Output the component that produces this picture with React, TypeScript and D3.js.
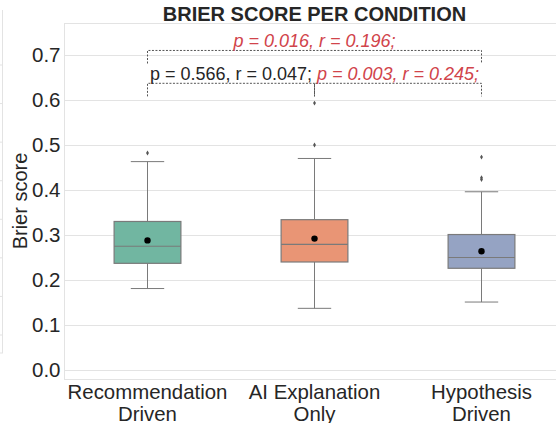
import React from "react";
import * as d3 from "d3";

const categories = ["Recommendation\nDriven", "AI Explanation\nOnly", "Hypothesis\nDriven"];
const q1 = [0.237, 0.240, 0.226];
const medians = [0.275, 0.279, 0.250];
const q3 = [0.330, 0.334, 0.301];
const whiskerLow = [0.181, 0.137, 0.151];
const whiskerHigh = [0.463, 0.470, 0.396];
const means = [0.288, 0.292, 0.264];
const outliers = [[0.482], [0.593, 0.500], [0.473, 0.427, 0.423]];
const colors = ["#71b6a1", "#e99575", "#95a3c3"];
const yTicks = [0.0, 0.1, 0.2, 0.3, 0.4, 0.5, 0.6, 0.7];
const brackets = [
  { from: 0, to: 2, level: 0, text: "p = 0.016, r = 0.196;", sig: true },
  { from: 0, to: 1, level: 1, text: "p = 0.566, r = 0.047;", sig: false },
  { from: 1, to: 2, level: 1, text: "p = 0.003, r = 0.245;", sig: true },
];
const title = "BRIER SCORE PER CONDITION";
const yLabel = "Brier score";

const W = 556, H = 423;
const left = 64, top = 23, bottom = 379, right = 565;
const FONT = "'Liberation Sans', Arial, sans-serif";
const TXT = "#262626";
const GRID = "#e3e3e3";
const EDGE = "#7a7a7a";

export default function App() {
  const x = d3.scaleBand<number>().domain([0, 1, 2]).range([left, right]).padding(0);
  const y = d3.scaleLinear().domain([-0.02, 0.771]).range([bottom, top]);
  const bw = x.bandwidth() * 0.4;
  const cx = (i: number) => (x(i) as number) + x.bandwidth() / 2;
  const diamond = d3.symbol().type(d3.symbolDiamond).size(7)() as string;

  const bracketY = (lvl: number) => y(0.71 - lvl * 0.073);
  const legLen = y(0) - y(0.029);

  // neighbouring panel edge (left clip)
  const ny = d3.scaleLinear().domain([0, 7]).range([65, 335]);

  return (
    <svg width={W} height={H} style={{ position: "absolute", left: 0, top: 0, background: "#fff" }} fontFamily={FONT}>
      <rect width={W} height={H} fill="#fff" />
      {/* neighbour panel remnant */}
      <line x1={2.5} x2={2.5} y1={10} y2={353} stroke={GRID} />
      <line x1={0} x2={3} y1={353} y2={353} stroke={GRID} />
      {d3.range(8).map((i) => (
        <line key={"n" + i} x1={0} x2={2} y1={ny(i)} y2={ny(i)} stroke={GRID} />
      ))}

      {/* grid */}
      {yTicks.map((t) => (
        <line key={"g" + t} x1={left} x2={right} y1={Math.round(y(t)) + 0.5} y2={Math.round(y(t)) + 0.5} stroke={GRID} strokeWidth={1} />
      ))}
      {/* spines */}
      <line x1={left + 0.5} x2={left + 0.5} y1={top} y2={bottom} stroke={GRID} />
      <line x1={left} x2={right} y1={top + 0.5} y2={top + 0.5} stroke={GRID} />
      <line x1={left} x2={right} y1={bottom + 0.5} y2={bottom + 0.5} stroke={GRID} />

      {/* y tick labels */}
      {yTicks.map((t) => (
        <text key={"t" + t} x={left - 3.5} y={y(t)} dy="0.36em" textAnchor="end" fontSize={20.5} fill={TXT}>
          {d3.format(".1f")(t)}
        </text>
      ))}
      {/* y label */}
      <text transform={`translate(26.5, ${(top + bottom) / 2}) rotate(-90)`} textAnchor="middle" fontSize={20} fill={TXT}>
        {yLabel}
      </text>
      {/* x labels */}
      {categories.map((c, i) => (
        <text key={"x" + i} x={cx(i)} y={398.5} textAnchor="middle" fontSize={20.4} fill={TXT}>
          {c.split("\n").map((ln, j) => (
            <tspan key={j} x={cx(i)} dy={j === 0 ? 0 : 22}>{ln}</tspan>
          ))}
        </text>
      ))}

      {/* boxes */}
      {categories.map((_, i) => {
        const c = cx(i);
        return (
          <g key={"b" + i}>
            <line x1={c} x2={c} y1={y(whiskerHigh[i])} y2={y(q3[i])} stroke={EDGE} strokeWidth={1} />
            <line x1={c} x2={c} y1={y(q1[i])} y2={y(whiskerLow[i])} stroke={EDGE} strokeWidth={1} />
            <line x1={c - bw / 4} x2={c + bw / 4} y1={y(whiskerHigh[i])} y2={y(whiskerHigh[i])} stroke={EDGE} strokeWidth={1} />
            <line x1={c - bw / 4} x2={c + bw / 4} y1={y(whiskerLow[i])} y2={y(whiskerLow[i])} stroke={EDGE} strokeWidth={1} />
            <rect x={c - bw / 2} y={y(q3[i])} width={bw} height={y(q1[i]) - y(q3[i])} fill={colors[i]} stroke={EDGE} strokeWidth={1.2} />
            <line x1={c - bw / 2} x2={c + bw / 2} y1={y(medians[i])} y2={y(medians[i])} stroke={EDGE} strokeWidth={1.2} />
            <circle cx={c} cy={y(means[i])} r={3.2} fill="#000" />
            {outliers[i].map((o, k) => (
              <path key={k} d={diamond} transform={`translate(${c},${y(o)})`} fill="#555" />
            ))}
          </g>
        );
      })}

      {/* significance brackets */}
      {brackets.map((b, i) => {
        const x1 = cx(b.from), x2 = cx(b.to);
        const by = bracketY(b.level);
        return (
          <g key={"br" + i}>
            <path
              d={`M${x1},${by + legLen} V${by} H${x2} V${by + legLen}`}
              fill="none" stroke="#555" strokeWidth={1} strokeDasharray="2,1.5"
            />
            <text x={(x1 + x2) / 2} y={by - 3} textAnchor="middle" fontSize={18}
              fill={b.sig ? "#d1444b" : TXT} fontStyle={b.sig ? "italic" : "normal"}>
              {b.text}
            </text>
          </g>
        );
      })}

      {/* title */}
      <text x={314.5} y={21} textAnchor="middle" fontSize={20} fontWeight="bold" fill={TXT}>
        {title}
      </text>
    </svg>
  );
}
